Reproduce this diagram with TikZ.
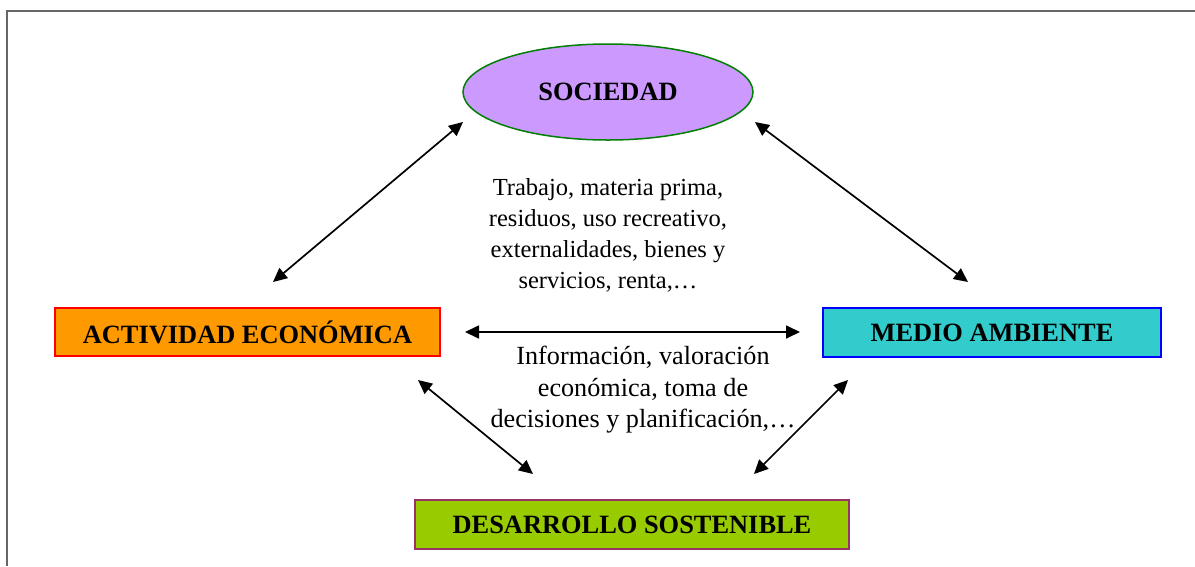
\documentclass[tikz,border=0pt]{standalone}
\usepackage{fontspec}
\setmainfont{Liberation Serif}
\usetikzlibrary{shapes.geometric,arrows.meta}
\definecolor{socfill}{HTML}{CC99FF}
\definecolor{socdraw}{HTML}{008000}
\definecolor{actfill}{HTML}{FF9900}
\definecolor{actdraw}{HTML}{FF0000}
\definecolor{medfill}{HTML}{33CCCC}
\definecolor{meddraw}{HTML}{0000FF}
\definecolor{desfill}{HTML}{99CC00}
\definecolor{desdraw}{HTML}{993366}
\definecolor{framecol}{HTML}{666666}
\tikzset{
  labelbox/.style={rectangle, inner sep=0pt, line width=1.5pt,
    font=\fontsize{26.4}{30}\selectfont\bfseries},
  biarrow/.style={line width=1.7pt, {Triangle[length=14pt,width=13pt]}-{Triangle[length=14pt,width=13pt]}},
  bodytext/.style={align=center, inner sep=0pt, font=\fontsize{24.5}{31}\selectfont},
  bodytextb/.style={align=center, inner sep=0pt, font=\fontsize{26.2}{31.5}\selectfont}
}
\begin{document}
\begin{tikzpicture}[x=1pt,y=-1pt]
\useasboundingbox (0,0) rectangle (1195,566);
\fill[white] (0,0) rectangle (1195,566);
\draw[framecol, line width=2pt] (7,566) -- (7,11) -- (1195,11);

\node[ellipse, draw=socdraw, fill=socfill, line width=1.5pt, minimum width=290pt, minimum height=96pt, inner sep=0pt,
  font=\fontsize{26.4}{30}\selectfont\bfseries] (soc) at (608,92) {SOCIEDAD};
\node[labelbox, draw=actdraw, fill=actfill, minimum width=385pt, minimum height=48pt] (act) at (247.5,332) {ACTIVIDAD ECONÓMICA};
\node[labelbox, draw=meddraw, fill=medfill, minimum width=338pt, minimum height=49pt] (med) at (992,332.5) {MEDIO AMBIENTE};
\node[labelbox, draw=desdraw, fill=desfill, minimum width=434pt, minimum height=49pt] (des) at (632,524.5) {DESARROLLO SOSTENIBLE};

\node[bodytext] (t1) at (608,235) {Trabajo, materia prima,\\residuos, uso recreativo,\\externalidades, bienes y\\servicios, renta,…};
\node[bodytextb] (t2) at (643,390) {Información, valoración\\económica, toma de\\decisiones y planificación,…};

\coordinate (a1s) at (273,282);
\coordinate (a1e) at (463,122);
\coordinate (a2s) at (755,122);
\coordinate (a2e) at (968,282);
\coordinate (a3s) at (465,332);
\coordinate (a3e) at (800,332);
\coordinate (a4s) at (418,380);
\coordinate (a4e) at (533,474);
\coordinate (a5s) at (848,380);
\coordinate (a5e) at (754,474);

\draw[biarrow] (a1s) -- (a1e);
\draw[biarrow] (a2s) -- (a2e);
\draw[biarrow] (a3s) -- (a3e);
\draw[biarrow] (a4s) -- (a4e);
\draw[biarrow] (a5s) -- (a5e);
\end{tikzpicture}
\end{document}
